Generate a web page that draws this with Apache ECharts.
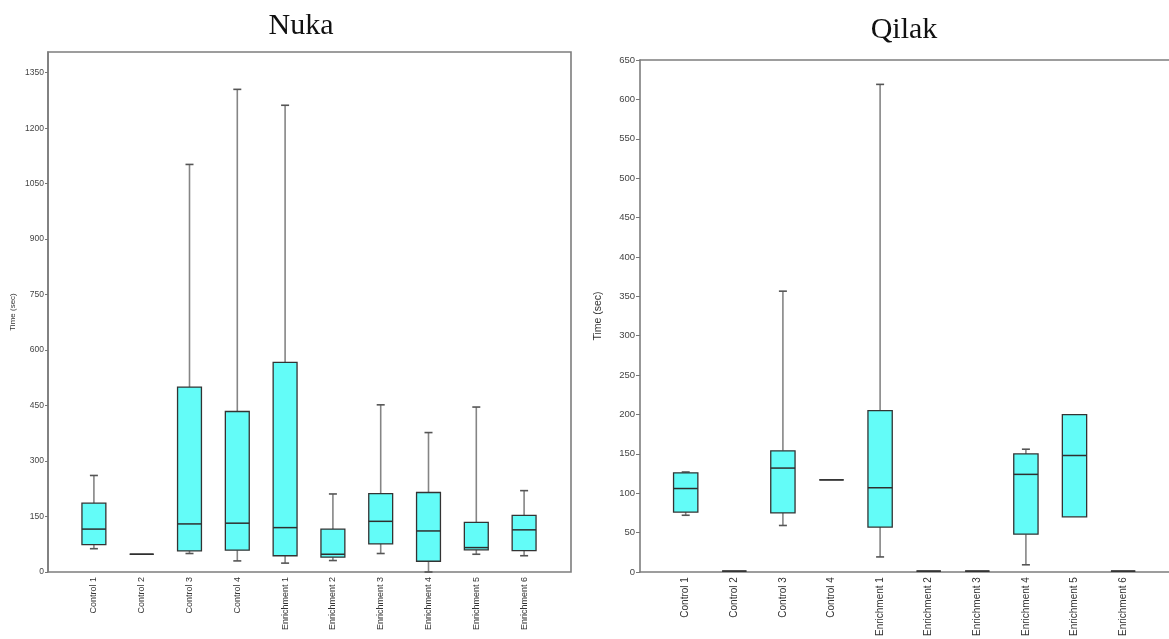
<!DOCTYPE html>
<html>
<head>
<meta charset="utf-8">
<script src="https://cdn.jsdelivr.net/npm/echarts@6/dist/echarts.min.js"></script>
<style>
html,body{margin:0;padding:0;background:#fff;}
#chart{width:1169px;height:639px;}
</style>
</head>
<body>
<div id="chart"></div>
<script>
const categories = ['Control 1','Control 2','Control 3','Control 4','Enrichment 1','Enrichment 2','Enrichment 3','Enrichment 4','Enrichment 5','Enrichment 6'];

// Nuka (left panel)
const nukaLow  = [63, 48, 50, 30, 24, 31, 50, 0, 48, 44];
const nukaQ1   = [74, 48, 57, 59, 44, 40, 76, 29, 60, 58];
const nukaMed  = [116, 48, 130, 132, 120, 48, 137, 111, 66, 114];
const nukaQ3   = [186, 48, 500, 434, 567, 116, 212, 215, 134, 153];
const nukaHigh = [261, 48, 1102, 1305, 1262, 211, 452, 377, 446, 220];

// Qilak (right panel)
const qilakLow  = [71, 0, 58, 116, 18, 0, 0, 8, 69, 0];
const qilakQ1   = [75, 0, 74, 116, 56, 0, 0, 47, 69, 0];
const qilakMed  = [105, 0, 131, 116, 106, 0, 0, 123, 147, 0];
const qilakQ3   = [125, 0, 153, 116, 204, 0, 0, 149, 199, 0];
const qilakHigh = [126, 0, 356, 116, 619, 0, 0, 155, 199, 0];

// axis scales
const nukaYMax = 1406, nukaYInterval = 150;
const qilakYMax = 650, qilakYInterval = 50;

function rows(low, q1, med, q3, high) {
  return categories.map((c, i) => [i, low[i], q1[i], med[i], q3[i], high[i]]);
}

function renderBox(params, api) {
  const x = api.value(0);
  const low = api.value(1), q1 = api.value(2), med = api.value(3), q3 = api.value(4), high = api.value(5);
  const band = api.size([1, 0])[0];
  const bw = band * 0.5;
  const cap = 4;
  const pLow = api.coord([x, low]);
  const pQ1 = api.coord([x, q1]);
  const pMed = api.coord([x, med]);
  const pQ3 = api.coord([x, q3]);
  const pHigh = api.coord([x, high]);
  const cx = pMed[0];
  const ch = [];
  const wStyle = {stroke: '#858585', lineWidth: 1.6};
  const cStyle = {stroke: '#555', lineWidth: 1.6};
  if (high > q3) {
    ch.push({type: 'line', shape: {x1: cx, y1: pQ3[1], x2: cx, y2: pHigh[1]}, style: wStyle});
    ch.push({type: 'line', shape: {x1: cx - cap, y1: pHigh[1], x2: cx + cap, y2: pHigh[1]}, style: cStyle});
  }
  if (low < q1) {
    ch.push({type: 'line', shape: {x1: cx, y1: pQ1[1], x2: cx, y2: pLow[1]}, style: wStyle});
    ch.push({type: 'line', shape: {x1: cx - cap, y1: pLow[1], x2: cx + cap, y2: pLow[1]}, style: cStyle});
  }
  ch.push({type: 'rect', shape: {x: cx - bw / 2, y: pQ3[1], width: bw, height: pQ1[1] - pQ3[1]},
           style: {fill: q3 > q1 ? '#63fcf8' : 'none', stroke: '#333', lineWidth: 1.3}});
  ch.push({type: 'line', shape: {x1: cx - bw / 2, y1: pMed[1], x2: cx + bw / 2, y2: pMed[1]},
           style: {stroke: '#2f2f2f', lineWidth: 1.5}});
  return {type: 'group', children: ch};
}

const sans = 'Liberation Sans, Arial, sans-serif';
const frameLine = {show: true, lineStyle: {color: '#7d7d7d', width: 1.6}};
const plain = v => String(v);

const chart = echarts.init(document.getElementById('chart'), null, {renderer: 'canvas'});
chart.setOption({
  animation: false,
  backgroundColor: '#fff',
  title: [
    {text: 'Nuka', left: 296, top: 6, textAlign: 'center',
     textStyle: {fontFamily: 'Liberation Serif, Times New Roman, serif', fontWeight: 'normal', fontSize: 30, color: '#111'}},
    {text: 'Qilak', left: 899, top: 10, textAlign: 'center',
     textStyle: {fontFamily: 'Liberation Serif, Times New Roman, serif', fontWeight: 'normal', fontSize: 30, color: '#111'}}
  ],
  grid: [
    // 0: Nuka frame
    {left: 48, top: 52, width: 523, height: 520, show: true, borderColor: '#7d7d7d', borderWidth: 1.6, backgroundColor: 'transparent'},
    // 1: Nuka boxes
    {left: 70, top: 52, width: 478, height: 520},
    // 2: Qilak frame (open on the right, beyond the picture)
    {left: 640, top: 60, width: 560, height: 512},
    // 3: Qilak boxes
    {left: 661.4, top: 60, width: 486, height: 512}
  ],
  xAxis: [
    {gridIndex: 0, type: 'value', show: false, min: 0, max: 1},
    {gridIndex: 1, type: 'category', data: categories, boundaryGap: true,
     axisLine: {show: false}, axisTick: {show: false},
     axisLabel: {rotate: 90, margin: 5, fontSize: 9, color: '#333', fontFamily: sans, interval: 0}},
    {gridIndex: 2, type: 'value', min: 0, max: 1, position: 'bottom',
     axisLine: frameLine, axisTick: {show: false}, axisLabel: {show: false}, splitLine: {show: false}},
    {gridIndex: 3, type: 'category', data: categories, boundaryGap: true,
     axisLine: {show: false}, axisTick: {show: false},
     axisLabel: {rotate: 90, margin: 6, fontSize: 10, color: '#333', fontFamily: sans, interval: 0}},
    {gridIndex: 2, type: 'value', min: 0, max: 1, position: 'top',
     axisLine: frameLine, axisTick: {show: false}, axisLabel: {show: false}, splitLine: {show: false}}
  ],
  yAxis: [
    {gridIndex: 0, type: 'value', min: 0, max: nukaYMax, interval: nukaYInterval,
     name: 'Time (sec)', nameLocation: 'middle', nameGap: 31, nameRotate: 90,
     nameTextStyle: {fontSize: 8, color: '#333', fontFamily: sans},
     axisLine: frameLine,
     axisTick: {show: true, length: 3, lineStyle: {color: '#777'}},
     splitLine: {show: false},
     axisLabel: {showMaxLabel: false, margin: 4, fontSize: 8.5, color: '#444', fontFamily: sans, formatter: plain}},
    {gridIndex: 1, type: 'value', min: 0, max: nukaYMax, show: false, splitLine: {show: false}},
    {gridIndex: 2, type: 'value', min: 0, max: qilakYMax, interval: qilakYInterval,
     name: 'Time (sec)', nameLocation: 'middle', nameGap: 36, nameRotate: 90,
     nameTextStyle: {fontSize: 10.5, color: '#333', fontFamily: sans},
     axisLine: frameLine,
     axisTick: {show: true, length: 4, lineStyle: {color: '#777'}},
     splitLine: {show: false},
     axisLabel: {margin: 5, fontSize: 9.5, color: '#444', fontFamily: sans, formatter: plain}},
    {gridIndex: 3, type: 'value', min: 0, max: qilakYMax, show: false, splitLine: {show: false}}
  ],
  series: [
    {type: 'custom', name: 'Nuka', xAxisIndex: 1, yAxisIndex: 1, renderItem: renderBox,
     encode: {x: 0, y: [1, 2, 3, 4, 5]}, data: rows(nukaLow, nukaQ1, nukaMed, nukaQ3, nukaHigh)},
    {type: 'custom', name: 'Qilak', xAxisIndex: 3, yAxisIndex: 3, renderItem: renderBox,
     encode: {x: 0, y: [1, 2, 3, 4, 5]}, data: rows(qilakLow, qilakQ1, qilakMed, qilakQ3, qilakHigh)}
  ]
});
</script>
</body>
</html>
